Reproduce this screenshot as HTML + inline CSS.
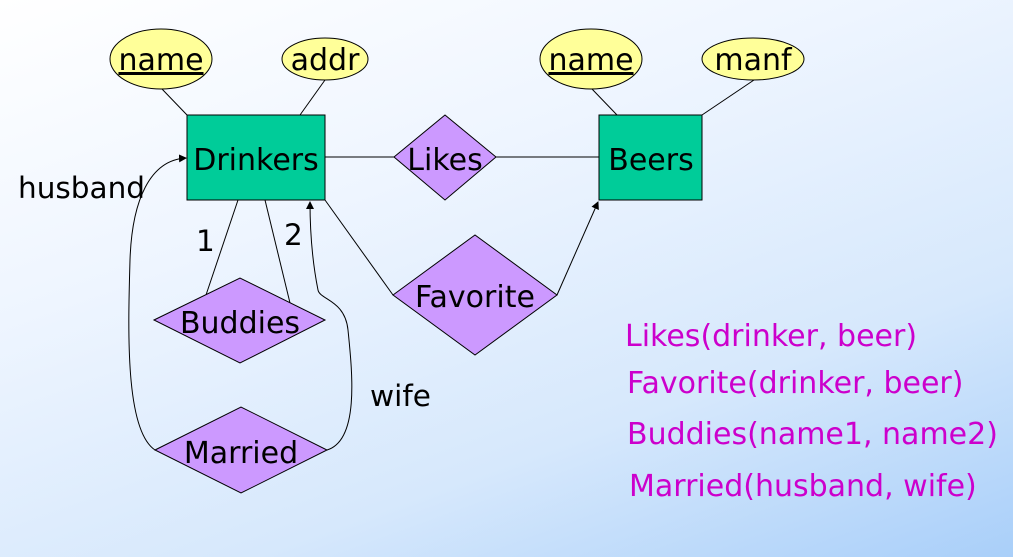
<!DOCTYPE html>
<html><head><meta charset="utf-8"><style>
html,body{margin:0;padding:0;}
body{width:1013px;height:557px;overflow:hidden;background:linear-gradient(160deg,#ffffff 0%,#eef5ff 35%,#d6e8fc 70%,#a9cff9 100%);}
svg{display:block;}
svg text{font-family:"DejaVu Sans","Liberation Sans",sans-serif;}
</style></head><body>
<svg width="1013" height="557" viewBox="0 0 1013 557" xmlns="http://www.w3.org/2000/svg">
<defs><marker id="a" markerWidth="8" markerHeight="8" refX="7" refY="4" orient="auto" markerUnits="userSpaceOnUse"><path d="M0,0 L8,4 L0,8 z" fill="#000"/></marker></defs>
<g stroke="#000" stroke-width="1" fill="none">
<line x1="162" y1="89" x2="187" y2="115"/>
<line x1="325" y1="80" x2="300" y2="115"/>
<line x1="592" y1="89" x2="617" y2="115"/>
<line x1="754" y1="80" x2="702" y2="115"/>
<line x1="325" y1="157" x2="394" y2="157"/>
<line x1="496" y1="157" x2="599" y2="157"/>
<line x1="325" y1="200" x2="393" y2="295"/>
<line x1="557" y1="295" x2="598" y2="202" marker-end="url(#a)"/>
<line x1="238" y1="200" x2="206" y2="295"/>
<line x1="265" y1="200" x2="290" y2="303"/>
<path d="M155,450 C125,430 128,330 130,260 C132,200 150,160 186,158" marker-end="url(#a)"/>
<path d="M327,450 C360,440 352,370 348,330 C345,300 320,300 318,290 C312,260 310,230 310,202" marker-end="url(#a)"/>
</g>
<g stroke="#000" stroke-width="1">
<ellipse cx="161" cy="59" rx="51" ry="30" fill="#ffff99"/>
<ellipse cx="325" cy="59" rx="43" ry="21" fill="#ffff99"/>
<ellipse cx="591" cy="59" rx="51" ry="30" fill="#ffff99"/>
<ellipse cx="753" cy="59" rx="51" ry="21" fill="#ffff99"/>
<rect x="187" y="115" width="138" height="85" fill="#00cc99"/>
<rect x="599" y="115" width="103" height="85" fill="#00cc99"/>
<polygon points="394,157 445,115 496,157 445,200" fill="#cc99ff"/>
<polygon points="393,295 475,235 557,295 475,355" fill="#cc99ff"/>
<polygon points="154,320 240,278 325,320 240,363" fill="#cc99ff"/>
<polygon points="155,450 241,407 327,450 241,493" fill="#cc99ff"/>
</g>
<g font-size="30" fill="#000" text-anchor="middle">
<text x="161" y="70" text-decoration="underline">name</text>
<text x="325" y="70">addr</text>
<text x="591" y="70" text-decoration="underline">name</text>
<text x="753" y="70">manf</text>
<text x="256" y="170">Drinkers</text>
<text x="651" y="170">Beers</text>
<text x="445" y="170">Likes</text>
<text x="475" y="307">Favorite</text>
<text x="240" y="333">Buddies</text>
<text x="241" y="463">Married</text>
</g>
<g font-size="29.5" fill="#000">
<text x="18" y="198">husband</text>
<text x="196" y="251">1</text>
<text x="284" y="245">2</text>
<text x="370" y="406">wife</text>
</g>
<g font-size="30" fill="#cc00cc">
<text x="625" y="346">Likes(drinker, beer)</text>
<text x="627" y="393">Favorite(drinker, beer)</text>
<text x="627" y="444">Buddies(name1, name2)</text>
<text x="629" y="496">Married(husband, wife)</text>
</g>
</svg>
</body></html>
